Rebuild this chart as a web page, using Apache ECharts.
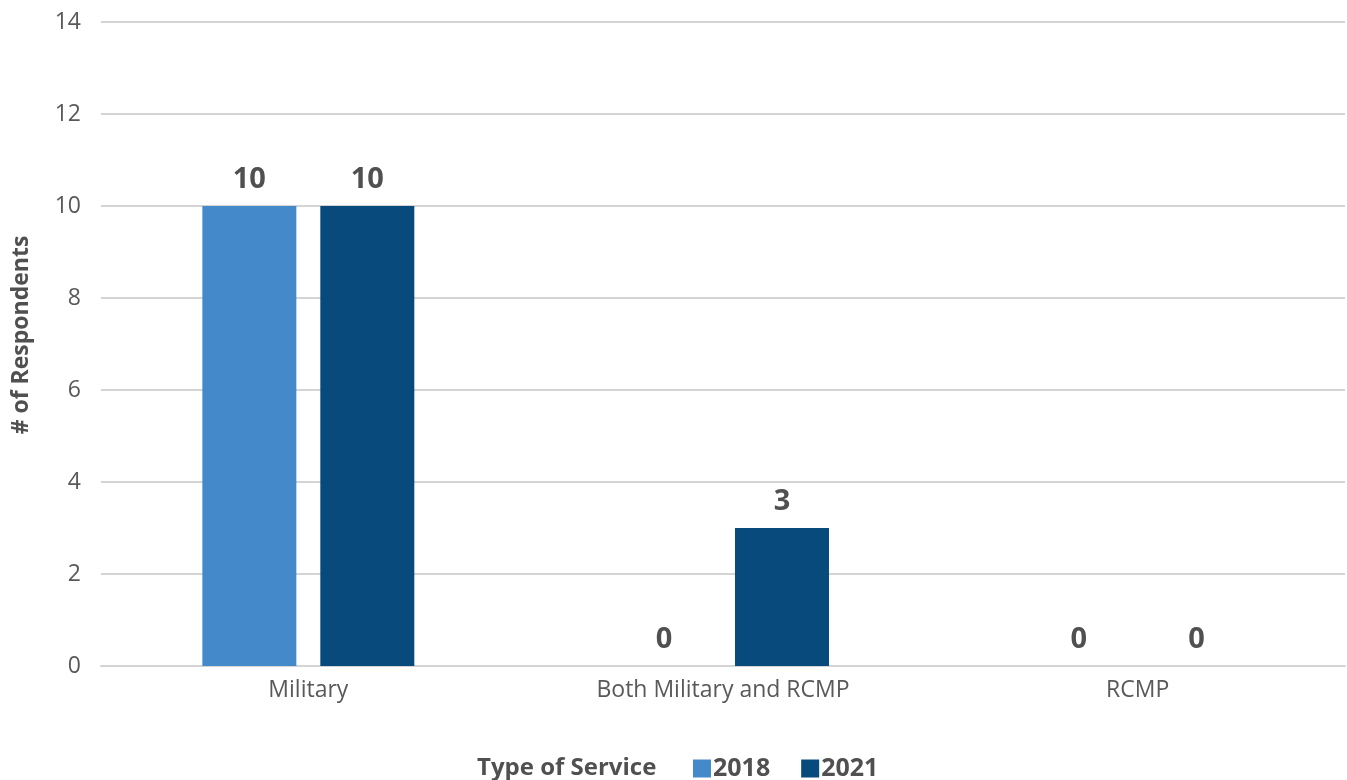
<!DOCTYPE html>
<html><head><meta charset="utf-8">
<script src="https://cdn.jsdelivr.net/npm/echarts@6/dist/echarts.min.js"></script>
<style>html,body{margin:0;padding:0;background:#fff}#c{width:1347px;height:780px}</style>
</head><body><div id="c"></div>
<script>
const categories = ["Military", "Both Military and RCMP", "RCMP"];
const seriesNames = ["2018", "2021"];
const values2018 = [10, 0, 0];
const values2021 = [10, 3, 0];
const colors = ["#4489CA", "#074A7B"];
const legendTitle = "Type of Service";
const yAxisName = "# of Respondents";

const chart = echarts.init(document.getElementById('c'));
const font = "'Open Sans', sans-serif";
const labelStyle = {show: true, position: 'top', distance: 12, color: '#505050', fontWeight: 'bold', fontSize: 29, fontFamily: font};
chart.setOption({
  animation: false,
  grid: {left: 101, right: 2, top: 22, bottom: 114},
  title: {text: legendTitle, left: 472, top: 751, textStyle: {fontFamily: font, fontSize: 24, fontWeight: 'bold', color: '#505050'}},
  legend: {
    data: seriesNames, left: 688, top: 751, itemWidth: 18, itemHeight: 18, itemGap: 31,
    icon: 'rect',
    textStyle: {fontFamily: font, fontSize: 25, fontWeight: 'bold', color: '#505050', padding: [0,0,0,-3]}
  },
  xAxis: {
    type: 'category', data: categories,
    axisLine: {lineStyle: {color: '#d4d4d4', width: 2}}, axisTick: {show: false},
    axisLabel: {fontFamily: font, fontSize: 23, color: '#595959', margin: 13}
  },
  yAxis: {
    type: 'value', min: 0, max: 14, interval: 2,
    name: yAxisName, nameLocation: 'middle', nameGap: 68, nameRotate: 90,
    nameTextStyle: {fontFamily: font, fontSize: 23, fontWeight: 'bold', color: '#505050', padding: [0, 0, 0, 18]},
    axisLabel: {fontFamily: font, fontSize: 23, color: '#595959', margin: 20},
    splitLine: {lineStyle: {color: '#d4d4d4', width: 2}},
    axisLine: {show: false}, axisTick: {show: false}
  },
  series: [
    {name: seriesNames[0], type: 'bar', data: values2018, barWidth: 94, barGap: '25.5%', itemStyle: {color: colors[0]}, label: labelStyle},
    {name: seriesNames[1], type: 'bar', data: values2021, barWidth: 94, itemStyle: {color: colors[1]}, label: labelStyle}
  ]
});
</script></body></html>
